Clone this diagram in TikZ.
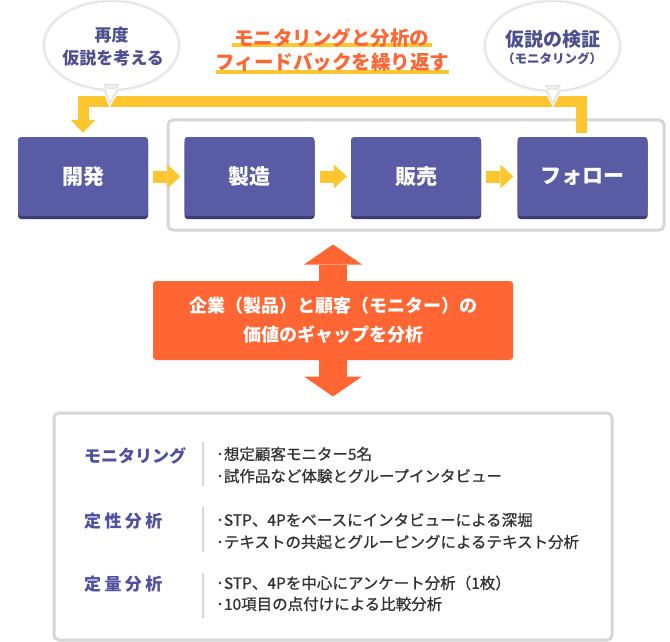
\documentclass[tikz,border=0pt]{standalone}
\usepackage{fontspec}
\setmainfont{Noto Sans CJK JP}
\newfontfamily\bodyfont[FakeBold=0.8]{Noto Sans CJK JP}
\usetikzlibrary{arrows.meta,shadows,patterns,calc}
\definecolor{boxfill}{HTML}{5D5EA8}
\definecolor{boxstripe}{HTML}{5557A0}
\definecolor{boxshadow}{HTML}{3B3C72}
\definecolor{yel}{HTML}{FEC62E}
\definecolor{org}{HTML}{FF6633}
\definecolor{grayline}{HTML}{D6D6D6}
\definecolor{bubtext}{HTML}{4E4F90}
\definecolor{labtext}{HTML}{4F50A0}
\definecolor{bodytext}{HTML}{333333}
\newcommand{\setfs}[1]{\fontsize{#1}{#1}\selectfont}
\begin{document}
\begin{tikzpicture}[x=1pt,y=-1pt,
  stepbox/.style={fill=boxfill, rounded corners=3pt, minimum width=130pt, minimum height=79pt,
    inner sep=0pt, text=white, font=\bfseries\setfs{21pt},
    drop shadow={opacity=1, fill=boxshadow, shadow xshift=0pt, shadow yshift=-3pt},
    postaction={pattern=north east lines, pattern color=boxstripe}},
  groupbox/.style={draw=grayline, line width=3pt, rounded corners=5pt, minimum width=496pt, minimum height=110pt, inner sep=0pt},
  panelbox/.style={draw=grayline, fill=white, line width=3pt, rounded corners=5pt, minimum width=558pt, minimum height=227pt, inner sep=0pt},
  gapbox/.style={fill=org, rounded corners=3pt, minimum width=360pt, minimum height=79pt, inner sep=0pt,
    text=white, font=\bfseries\fontsize{18pt}{29pt}\selectfont, align=center},
  titletext/.style={text=org, font=\bfseries\setfs{19.5pt}, inner sep=0pt},
  bubtxt/.style={text=bubtext, font=\bfseries\setfs{17pt}, inner sep=0pt},
  labelnode/.style={text=labtext, font=\bfseries\setfs{17pt}, anchor=west, inner sep=0pt},
  bodynode/.style={text=bodytext, font=\bodyfont\setfs{15.5pt}, anchor=west, inner sep=0pt},
  sepline/.style={draw=grayline, line width=2pt},
  yarrow/.style={draw=yel, line width=12pt, -{Triangle[width=24pt,length=13pt,line width=0pt]}},
  yloop/.style={draw=yel, line width=11pt, -{Triangle[width=25pt,length=13pt,line width=0pt]}},
  oarrow/.style={draw=org, line width=28pt,
    {Triangle[width=58pt,length=20pt,line width=0pt]}-{Triangle[width=58pt,length=20pt,line width=0pt]}},
  halo1/.style={draw=black!5, line width=6pt},
  halo2/.style={draw=black!12, line width=2.5pt},
]
\useasboundingbox (0,0) rectangle (670,642);
\fill[white] (0,0) rectangle (670,642);

% title
\fill[yel] (232,43) rectangle (432,47.5);
\fill[yel] (216,70) rectangle (449,74.5);
\node[titletext] (t1) at (331.5,38) {モニタリングと分析の};
\node[titletext] (t2) at (332.5,62) {フィードバックを繰り返す};

% group frame
\node[groupbox] (grp) at (416,175) {};

% steps
\node[stepbox] (n1) at (83,176.5) {開発};
\node[stepbox] (n2) at (249.5,176.5) {製造};
\node[stepbox] (n3) at (416,176.5) {販売};
\node[stepbox] (n4) at (582.5,176.5) {フォロー};

\draw[yarrow] ([xshift=5pt]n1.east) -- ([xshift=-4pt]n2.west);
\draw[yarrow] ([xshift=5pt]n2.east) -- ([xshift=-4pt]n3.west);
\draw[yarrow] ([xshift=5pt]n3.east) -- ([xshift=-4pt]n4.west);

% feedback loop
\draw[yloop] ([xshift=-1pt,yshift=4pt]n4.north) -- ++(0,-31) -| ([yshift=4pt]n1.north);

% bubbles
\path[halo1] (111.5,45.5) ellipse [x radius=66.5, y radius=43.5] (103.5,84) -- (110,101) -- (119.5,84) -- cycle;
\path[halo2] (111.5,45.5) ellipse [x radius=66.5, y radius=43.5] (103.5,84) -- (110,101) -- (119.5,84) -- cycle;
\fill[white] (111.5,45.5) ellipse [x radius=66.5, y radius=43.5] (103.5,84) -- (110,101) -- (119.5,84) -- cycle;
\path[halo1] (552.5,46) ellipse [x radius=66.5, y radius=44] (545,85) -- (553,101) -- (561,85) -- cycle;
\path[halo2] (552.5,46) ellipse [x radius=66.5, y radius=44] (545,85) -- (553,101) -- (561,85) -- cycle;
\fill[white] (552.5,46) ellipse [x radius=66.5, y radius=44] (545,85) -- (553,101) -- (561,85) -- cycle;
\node[bubtxt] (b1a) at (111.5,35) {再度};
\node[bubtxt] (b1b) at (113,58) {仮説を考える};
\node[bubtxt, font=\bfseries\setfs{19pt}] (b2a) at (552.5,39) {仮説の検証};
\node[bubtxt, font=\bfseries\setfs{12.5pt}] (b2b) at (552,59) {（モニタリング）};

% bottom panel
\node[panelbox] (panel) at (333,526.5) {};
\coordinate (atop) at (panel.north |- grp.south);
\draw[oarrow] ([yshift=-13pt]atop) -- ([yshift=15pt]panel.north);
\node[gapbox] (gap) at (333,320.5) {企業（製品）と顧客（モニター）の\\価値のギャップを分析};

% panel contents
\node[labelnode] (l1) at (84,456) {モニタリング};
\node[labelnode, font=\bfseries\setfs{17pt}\addfontfeature{LetterSpace=20}] (l2) at (84,521) {定性分析};
\node[labelnode, font=\bfseries\setfs{17pt}\addfontfeature{LetterSpace=20}] (l3) at (84,584) {定量分析};

\draw[sepline] (203,442) -- (203,486);
\draw[sepline] (203,507) -- (203,552);
\draw[sepline] (203,573) -- (203,618);

\node[bodynode] (p1) at (216,454) {･想定顧客モニター5名};
\node[bodynode] (p2) at (216,476) {･試作品など体験とグループインタビュー};
\node[bodynode] (p3) at (216,520) {･STP、4Pをベースにインタビューによる深堀};
\node[bodynode] (p4) at (216,542) {･テキストの共起とグルーピングによるテキスト分析};
\node[bodynode] (p5) at (216,583) {･STP、4Pを中心にアンケート分析（1枚）};
\node[bodynode] (p6) at (216,604) {･10項目の点付けによる比較分析};
\end{tikzpicture}
\end{document}
